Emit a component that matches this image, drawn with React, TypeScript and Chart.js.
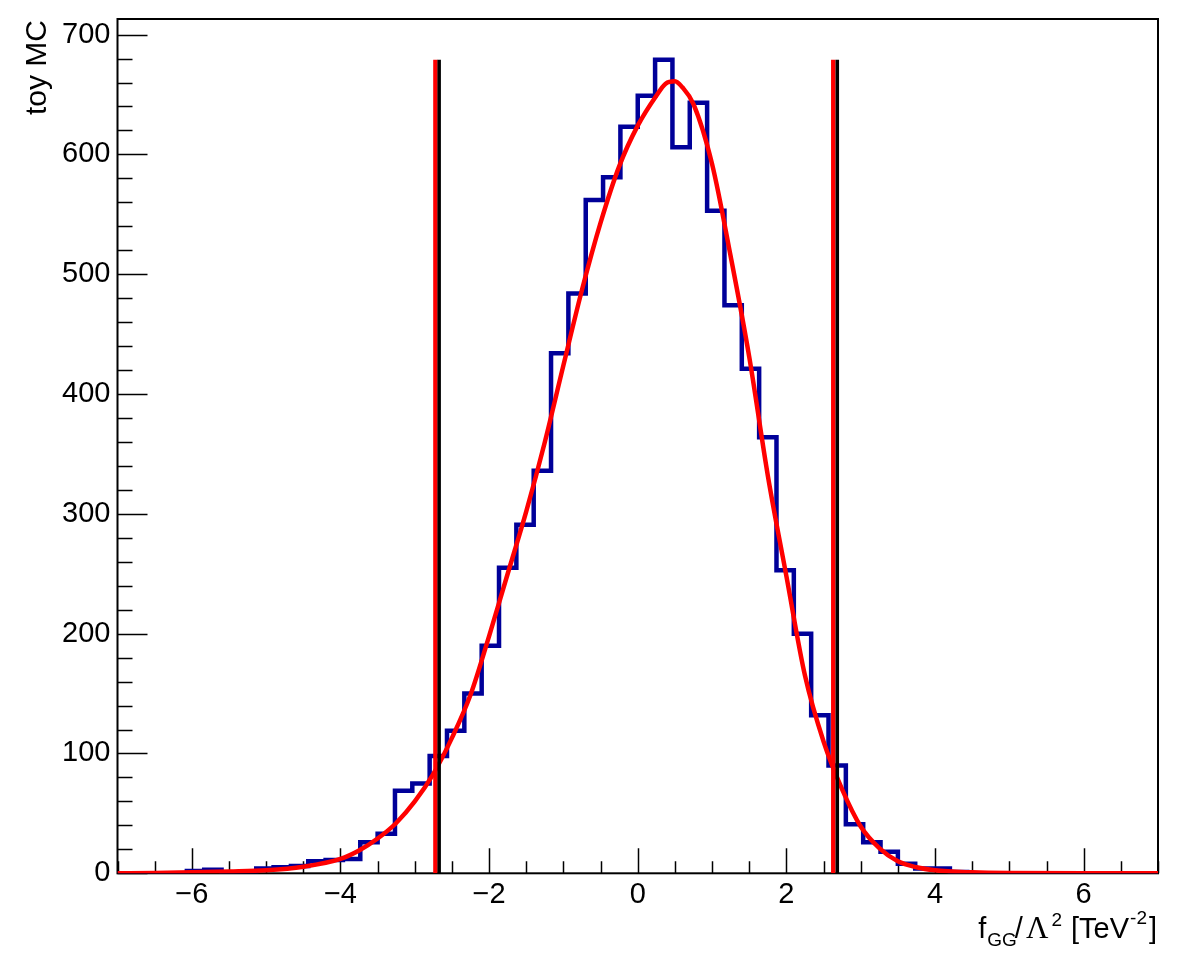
import React, { useEffect, useRef } from 'react';
import { Chart, registerables } from 'chart.js';
Chart.register(...registerables);

// ---- data ----
const X_MIN = -7;
const X_MAX = 7;
const N_BINS = 60;
const Y_MAX = 713;

// toy MC histogram: counts per bin (60 bins from -7 to 7)
const binCounts = [
  0, 0, 0, 0, 2, 3, 0, 1, 4, 5,
  6, 10, 11, 12, 26, 33, 69, 75, 98, 119,
  150, 190, 255, 291, 336, 434, 484, 562, 581, 623,
  649, 679, 606, 643, 553, 474, 421, 364, 253, 200,
  132, 90, 41, 26, 18, 8, 4, 4, 1, 0,
  0, 0, 0, 0, 0, 0, 0, 0, 0, 0,
];

// fitted curve (red)
const fitX = [-7, -6.5, -6, -5.5, -5, -4.5, -4, -3.75, -3.5, -3.25, -3, -2.75, -2.5, -2.25, -2, -1.75, -1.5, -1.25, -1, -0.75, -0.5, -0.25, 0, 0.25, 0.375, 0.5, 0.6, 0.75, 1, 1.25, 1.5, 1.75, 2, 2.25, 2.5, 2.75, 3, 3.25, 3.5, 3.75, 4, 4.5, 5, 6, 7];
const fitY = [0, 0.3, 0.8, 1.5, 2.5, 5.5, 12, 19, 29, 42, 60, 83, 113, 149, 198, 250, 302, 360, 424, 487, 543, 590, 624, 649, 659, 661, 656, 642, 592, 515, 431, 332, 248, 165, 110, 70, 39, 21, 10, 5, 2.5, 0.8, 0.2, 0, 0];

// interval limits (vertical lines)
const redLimits = [-2.722, 2.631];
const blackLimits = [-2.672, 2.685];
const LIMIT_TOP = 679;

const xTickValues = [-6, -4, -2, 0, 2, 4, 6];
const yTickValues = [0, 100, 200, 300, 400, 500, 600, 700];

const FONT = '"Liberation Sans", Arial, Helvetica, sans-serif';

export default function App() {
  const ref = useRef<HTMLCanvasElement | null>(null);

  useEffect(() => {
    document.body.style.margin = '0';
    const canvas = ref.current;
    if (!canvas) return;

    const binWidth = (X_MAX - X_MIN) / N_BINS;
    const histPoints = binCounts.map((c, i) => ({ x: X_MIN + i * binWidth, y: c }));
    histPoints.push({ x: X_MAX, y: binCounts[N_BINS - 1] });
    const fitPoints = fitX.map((x, i) => ({ x, y: fitY[i] }));

    const lineDs = (xv: number, color: string, w: number) => ({
      type: 'line' as const,
      data: [{ x: xv, y: 0 }, { x: xv, y: LIMIT_TOP }],
      borderColor: color,
      borderWidth: w,
      pointRadius: 0,
      fill: false,
    });

    const decor = {
      id: 'decor',
      beforeDatasetsDraw(chart: any) {
        const { ctx, chartArea: a, scales } = chart;
        const xs = scales.x;
        const ys = scales.y;
        ctx.save();
        ctx.strokeStyle = '#000';
        ctx.lineWidth = 1.5;
        ctx.beginPath();
        for (let v = 0; v <= 700; v += 20) {
          const len = v % 100 === 0 ? 30 : 15;
          const py = Math.round(ys.getPixelForValue(v)) + 0.5;
          ctx.moveTo(a.left, py);
          ctx.lineTo(a.left + len, py);
        }
        for (let i = 0; i <= 28; i++) {
          const v = X_MIN + i * 0.5;
          const len = Math.abs(v % 2) < 1e-9 ? 25 : 12;
          const px = Math.round(xs.getPixelForValue(v)) + 0.5;
          ctx.moveTo(px, a.bottom);
          ctx.lineTo(px, a.bottom - len);
        }
        ctx.stroke();
        ctx.lineWidth = 2;
        ctx.strokeRect(a.left, a.top, a.right - a.left, a.bottom - a.top);
        ctx.restore();
      },
      afterDraw(chart: any) {
        const { ctx } = chart;
        ctx.save();
        ctx.fillStyle = '#000';
        // y title
        ctx.save();
        ctx.translate(46, 20);
        ctx.rotate(-Math.PI / 2);
        ctx.font = `30px ${FONT}`;
        ctx.textAlign = 'right';
        ctx.textBaseline = 'alphabetic';
        ctx.fillText('toy MC', 0, 0);
        ctx.restore();
        // x title with sub/superscripts
        const parts = [
          { t: 'f', size: 29, dy: 0, fam: FONT, gap: 0 },
          { t: 'GG', size: 19, dy: 8, fam: FONT, gap: 1 },
          { t: '/', size: 29, dy: 0, fam: FONT, gap: -2 },
          { t: 'Λ', size: 31, dy: 0, fam: '"Liberation Serif", "DejaVu Serif", serif', gap: 3 },
          { t: '2', size: 19, dy: -12, fam: FONT, gap: 3 },
          { t: ' [TeV', size: 29, dy: 0, fam: FONT, gap: 1 },
          { t: '-2', size: 19, dy: -14, fam: FONT, gap: 1 },
          { t: ']', size: 29, dy: 0, fam: FONT, gap: 2 },
        ];
        let total = 0;
        const widths = parts.map((p) => {
          ctx.font = `${p.size}px ${p.fam}`;
          const w = ctx.measureText(p.t).width;
          total += w + p.gap;
          return w;
        });
        let x = 1157 - total;
        const base = 938;
        ctx.textAlign = 'left';
        ctx.textBaseline = 'alphabetic';
        parts.forEach((p, i) => {
          x += p.gap;
          ctx.font = `${p.size}px ${p.fam}`;
          ctx.fillText(p.t, x, base + p.dy);
          x += widths[i];
        });
        ctx.restore();
      },
    };

    const chart = new Chart(canvas, {
      type: 'line',
      data: {
        datasets: [
          lineDs(blackLimits[0], '#000000', 3.5),
          lineDs(blackLimits[1], '#000000', 3.5),
          lineDs(redLimits[0], '#ff0000', 4.5),
          lineDs(redLimits[1], '#ff0000', 4.5),
          {
            type: 'line',
            data: fitPoints,
            borderColor: '#ff0000',
            borderWidth: 4.5,
            pointRadius: 0,
            fill: false,
            cubicInterpolationMode: 'monotone',
          },
          {
            type: 'line',
            data: histPoints,
            borderColor: '#000099',
            borderWidth: 4.5,
            pointRadius: 0,
            fill: false,
            stepped: true,
          },
        ] as any,
      },
      options: {
        animation: false,
        responsive: false,
        devicePixelRatio: 1,
        events: [],
        layout: { padding: { top: 19, right: 24, left: 0, bottom: 0 } },
        plugins: { legend: { display: false }, tooltip: { enabled: false }, title: { display: false } },
        scales: {
          x: {
            type: 'linear',
            min: X_MIN,
            max: X_MAX,
            grid: { display: false },
            border: { display: false },
            afterFit: (s: any) => { s.height = 971 - 873.3; s.paddingLeft = 0; s.paddingRight = 0; },
            afterBuildTicks: (s: any) => { s.ticks = xTickValues.map((v) => ({ value: v })); },
            ticks: {
              color: '#000',
              font: { family: FONT, size: 29 },
              padding: -4,
              maxRotation: 0,
              autoSkip: false,
              callback: (v: any) => String(v).replace('-', '\u2212'),
            },
          },
          y: {
            type: 'linear',
            min: 0,
            max: Y_MAX,
            grid: { display: false },
            border: { display: false },
            afterFit: (s: any) => { s.width = 117.5; s.paddingTop = 0; s.paddingBottom = 0; },
            afterBuildTicks: (s: any) => { s.ticks = yTickValues.map((v) => ({ value: v })); },
            ticks: {
              color: '#000',
              font: { family: FONT, size: 29 },
              padding: -1,
              autoSkip: false,
              callback: (v: any) => String(v),
            },
          },
        },
      },
      plugins: [decor],
    });

    return () => chart.destroy();
  }, []);

  return (
    <div style={{ position: 'absolute', left: 0, top: 0, width: 1182, height: 971, background: '#fff' }}>
      <canvas ref={ref} width={1182} height={971} style={{ display: 'block', width: 1182, height: 971 }} />
    </div>
  );
}
